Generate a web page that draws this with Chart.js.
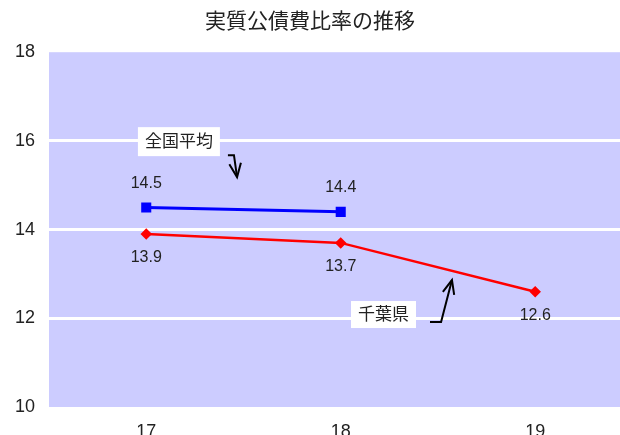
<!DOCTYPE html>
<html>
<head>
<meta charset="utf-8">
<script src="https://cdn.jsdelivr.net/npm/chart.js@4/dist/chart.umd.min.js"></script>
<style>
  html, body { margin: 0; padding: 0; background: #fff; overflow: hidden; }
  #wrap { width: 620px; height: 450px; }
</style>
</head>
<body>
<div id="wrap"><canvas id="c" width="620" height="450"></canvas></div>
<script>
  // Data
  const years = [17, 18, 19];
  const national = [14.5, 14.4, null];   // 全国平均
  const chiba = [13.9, 13.7, 12.6];      // 千葉県
  const yTicks = [10, 12, 14, 16, 18];

  // Callout labels (data coordinates) and their arrows
  const callouts = [
    { text: "全国平均", x: 17.168, y: 15.983, w: 82, h: 29,
      arrow: [[17.420, 15.679], [17.451, 15.679], [17.467, 15.183]] },
    { text: "千葉県", x: 18.220, y: 12.085, w: 65, h: 27,
      arrow: [[18.459, 11.915], [18.516, 11.915], [18.572, 12.862]] },
  ];

  const FONT = "'Liberation Sans', 'Noto Sans CJK JP', sans-serif";
  const TEXT = "#222";

  const plotBg = {
    id: "plotBg",
    beforeDraw(chart) {
      const { ctx, chartArea: a } = chart;
      ctx.save();
      ctx.fillStyle = "#ccccff";
      ctx.fillRect(a.left, a.top, a.right - a.left, a.bottom - a.top);
      ctx.restore();
    },
  };

  const valueLabels = {
    id: "valueLabels",
    afterDatasetsDraw(chart) {
      const ctx = chart.ctx;
      ctx.save();
      ctx.font = "16px " + FONT;
      ctx.fillStyle = TEXT;
      ctx.textAlign = "center";
      ctx.textBaseline = "middle";
      chart.data.datasets.forEach((ds, i) => {
        const off = i === 0 ? -24 : 24;
        chart.getDatasetMeta(i).data.forEach((pt, j) => {
          const v = ds.data[j].y;
          if (v == null) return;
          ctx.fillText(v.toFixed(1), pt.x, pt.y + off);
        });
      });
      ctx.restore();
    },
  };

  const calloutPlugin = {
    id: "callouts",
    afterDraw(chart) {
      const { ctx, scales: { x, y } } = chart;
      ctx.save();
      for (const c of callouts) {
        const cx = x.getPixelForValue(c.x), cy = y.getPixelForValue(c.y);
        ctx.fillStyle = "#fff";
        ctx.fillRect(cx - c.w / 2, cy - c.h / 2, c.w, c.h);
        ctx.fillStyle = TEXT;
        ctx.font = "17px " + FONT;
        ctx.textAlign = "center";
        ctx.textBaseline = "middle";
        ctx.fillText(c.text, cx, cy + 1);

        const pts = c.arrow.map(p => [x.getPixelForValue(p[0]), y.getPixelForValue(p[1])]);
        ctx.strokeStyle = "#000";
        ctx.lineWidth = 2;
        ctx.beginPath();
        pts.forEach((p, k) => k ? ctx.lineTo(p[0], p[1]) : ctx.moveTo(p[0], p[1]));
        ctx.stroke();
        const [ax, ay] = pts[pts.length - 2], [bx, by] = pts[pts.length - 1];
        const ang = Math.atan2(by - ay, bx - ax);
        ctx.beginPath();
        ctx.moveTo(bx - 15 * Math.cos(ang - 0.4), by - 15 * Math.sin(ang - 0.4));
        ctx.lineTo(bx, by);
        ctx.lineTo(bx - 15 * Math.cos(ang + 0.4), by - 15 * Math.sin(ang + 0.4));
        ctx.stroke();
      }
      ctx.restore();
    },
  };

  const toXY = (arr) => arr.map((v, i) => ({ x: years[i], y: v }));

  new Chart(document.getElementById("c"), {
    type: "line",
    data: {
      datasets: [
        { label: "全国平均", data: toXY(national), borderColor: "#0000ff", backgroundColor: "#0000ff",
          borderWidth: 3, pointStyle: "rect", pointRadius: 5, tension: 0, spanGaps: false },
        { label: "千葉県", data: toXY(chiba), borderColor: "#ff0000", backgroundColor: "#ff0000",
          borderWidth: 2.5, pointStyle: "rectRot", pointRadius: 4, tension: 0 },
      ],
    },
    options: {
      responsive: false,
      animation: false,
      layout: { padding: 0, autoPadding: false },
      plugins: {
        legend: { display: false },
        tooltip: { enabled: false },
        title: {
          display: true, text: "実質公債費比率の推移", color: TEXT,
          font: { family: FONT, size: 21, weight: "normal" },
          padding: { top: 10, bottom: 17 },
        },
      },
      scales: {
        x: {
          type: "linear", min: 16.5, max: 19.436,
          afterBuildTicks: (s) => { s.ticks = years.map(v => ({ value: v })); },
          afterFit: (s) => { s.height = 43; s.paddingLeft = 0; s.paddingRight = 0; },
          grid: { display: false, drawTicks: false },
          border: { display: false },
          ticks: { color: TEXT, padding: 14, font: { family: FONT, size: 18 }, callback: (v) => String(v) },
        },
        y: {
          min: 10, max: 18,
          afterBuildTicks: (s) => { s.ticks = yTicks.map(v => ({ value: v })); },
          afterFit: (s) => { s.width = 49; },
          grid: {
            drawTicks: false, lineWidth: 3,
            color: (c) => (c.tick && c.tick.value > 10 && c.tick.value < 18) ? "#fff" : "rgba(0,0,0,0)",
          },
          border: { display: false },
          ticks: { color: TEXT, padding: 14, font: { family: FONT, size: 18 } },
        },
      },
    },
    plugins: [plotBg, valueLabels, calloutPlugin],
  });
</script>
</body>
</html>
